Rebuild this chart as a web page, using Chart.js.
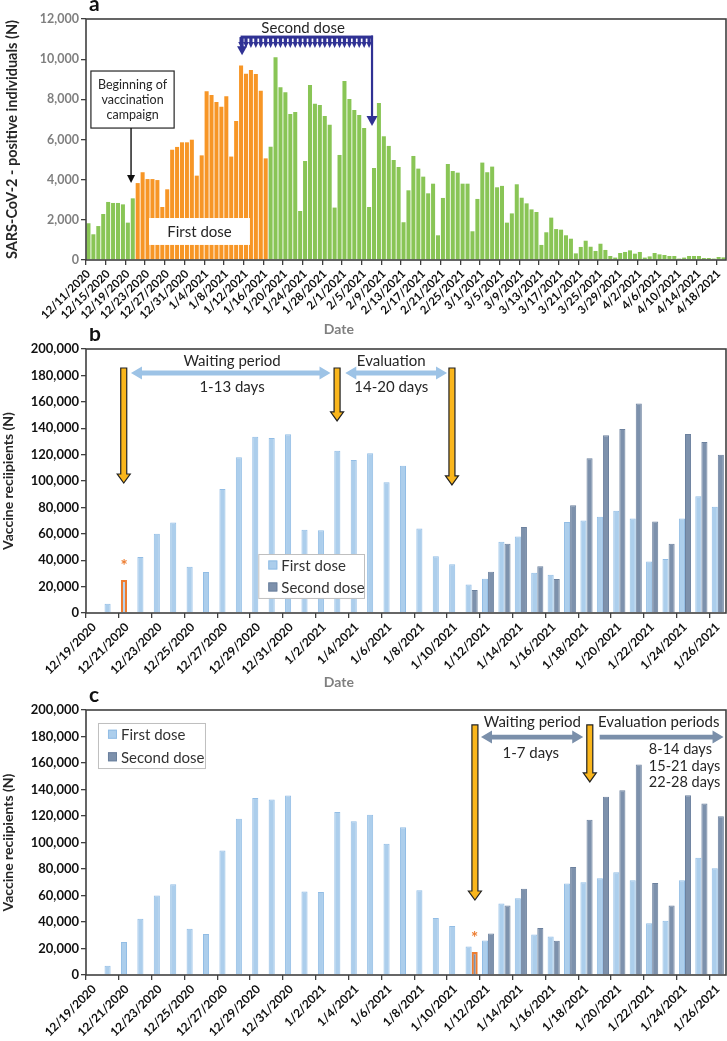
<!DOCTYPE html>
<html>
<head>
<meta charset="utf-8">
<script src="https://cdn.jsdelivr.net/npm/chart.js@4.4.1/dist/chart.umd.min.js"></script>
<style>
  body { margin: 0; background: #fff; width: 727px; height: 1041px; position: relative; overflow: hidden; }
  canvas { position: absolute; left: 0; }
</style>
</head>
<body>
<canvas id="chartA" width="727" height="340" style="top:0"></canvas>
<canvas id="chartB" width="727" height="370" style="top:328px"></canvas>
<canvas id="chartC" width="727" height="353" style="top:688px"></canvas>
<script>
function dayLabels(y, m, d, n) {
    const out = [];
    const t = new Date(y, m - 1, d);
    for (let i = 0; i < n; i++) {
        out.push((t.getMonth() + 1) + '/' + t.getDate() + '/' + t.getFullYear());
        t.setDate(t.getDate() + 1);
    }
    return out;
}

// ---- panel a: daily positive cases ----
const caseDates = dayLabels(2020, 12, 11, 130);
const cases = [
    1830, 1280, 1690, 2290, 2890, 2840, 2840, 2770, 1860, 3070,
    3830, 4370, 4030, 4030, 3980, 2640, 3520, 5490, 5630, 5860,
    5860, 5990, 4200, 5210, 8400, 8220, 7870, 7630, 8150, 5150,
    6920, 9690, 9280, 9460, 9260, 8430, 5060, 5640, 10090, 8600,
    8350, 7270, 7370, 2440, 4930, 8710, 7780, 7720, 7170, 6740,
    2610, 5230, 8910, 8020, 7470, 7220, 6570, 2640, 4580, 7820,
    6160, 5680, 4980, 4630, 1880, 3470, 5180, 4550, 4150, 3320,
    3800, 1230, 3090, 4780, 4430, 4350, 3800, 3800, 1430, 3040,
    4850, 4370, 4650, 3620, 3690, 1860, 2320, 3770, 3100, 2820,
    2520, 2390, 750, 1380, 2110, 1540, 1510, 1230, 1060, 330,
    650, 960, 660, 450, 810, 500, 200, 120, 350, 400,
    480, 315, 400, 120, 180, 350, 280, 250, 200, 200,
    70, 120, 200, 200, 200, 100, 100, 70, 150, 130
];
const firstDoseStart = '12/21/2020';
const firstDoseEnd = '1/16/2021';

// ---- panels b and c: vaccine recipients ----
const vaxDates = dayLabels(2020, 12, 19, 39);
const firstDose = [
    null, 7000, 25000, 42500, 60000, 68500, 35000, 31000, 94000, 118000,
    133500, 132500, 135500, 63000, 62700, 123000, 116000, 121000, 99000, 111500,
    64000, 43000, 37000, 21500, 26000, 54000, 58000, 30500, 29000, 69000,
    70000, 73000, 77500, 71500, 39000, 41000, 71500, 88500, 80500
];
const secondDose = [
    null, null, null, null, null, null, null, null, null, null,
    null, null, null, null, null, null, null, null, null, null,
    null, null, null, 17400, 31300, 52500, 65100, 35400, 25800, 81600,
    117200, 134600, 139400, 158800, 69400, 52500, 135600, 129500, 119900
];

const GREEN = 'rgb(137,197,86)';
const ORANGE = 'rgb(247,150,38)';
const BLUE1 = 'rgb(172,206,236)';
const BLUE1_EDGE = 'rgb(146,189,229)';
const SLATE = 'rgb(125,145,172)';
const SLATE_EDGE = 'rgb(108,129,158)';
const HILITE = 'rgb(237,125,49)';
const GOLD = 'rgb(250,182,28)';
const NAVY = 'rgb(48,50,148)';
const AXIS = '#404040';
const TEXT = '#262626';

Chart.defaults.font.family = 'Lato, "Liberation Sans", sans-serif';
Chart.defaults.animation = false;

function txt(ctx, s, x, y, size, opts = {}) {
    ctx.save();
    ctx.font = (opts.weight || 'normal') + ' ' + size + 'px Lato, sans-serif';
    ctx.fillStyle = opts.color || TEXT;
    ctx.textAlign = opts.align || 'center';
    ctx.textBaseline = opts.baseline || 'middle';
    ctx.fillText(s, x, y);
    ctx.restore();
}

function frame(ctx, a) {
    ctx.save();
    ctx.strokeStyle = AXIS;
    ctx.lineWidth = 1.6;
    ctx.strokeRect(a.left, a.top, a.width, a.height);
    ctx.restore();
}

function downHead(ctx, x, yTip, hw, hh) {
    ctx.beginPath();
    ctx.moveTo(x - hw, yTip - hh);
    ctx.lineTo(x + hw, yTip - hh);
    ctx.lineTo(x, yTip);
    ctx.closePath();
    ctx.fill();
}

function goldArrow(ctx, x, y0, y1) {
    const sw = 3, hw = 6.5, hh = 9;
    ctx.save();
    ctx.beginPath();
    ctx.moveTo(x - sw, y0);
    ctx.lineTo(x + sw, y0);
    ctx.lineTo(x + sw, y1 - hh);
    ctx.lineTo(x + hw, y1 - hh);
    ctx.lineTo(x, y1);
    ctx.lineTo(x - hw, y1 - hh);
    ctx.lineTo(x - sw, y1 - hh);
    ctx.closePath();
    ctx.fillStyle = GOLD;
    ctx.fill();
    ctx.strokeStyle = '#222';
    ctx.lineWidth = 1.2;
    ctx.stroke();
    ctx.restore();
}

function hArrow(ctx, x0, x1, y, color, both) {
    const t = 2.4, hl = 11, hh = 6.5;
    ctx.save();
    ctx.beginPath();
    if (both) {
        ctx.moveTo(x0, y);
        ctx.lineTo(x0 + hl, y - hh);
        ctx.lineTo(x0 + hl, y - t);
    } else {
        ctx.moveTo(x0, y - t);
    }
    ctx.lineTo(x1 - hl, y - t);
    ctx.lineTo(x1 - hl, y - hh);
    ctx.lineTo(x1, y);
    ctx.lineTo(x1 - hl, y + hh);
    ctx.lineTo(x1 - hl, y + t);
    if (both) {
        ctx.lineTo(x0 + hl, y + t);
        ctx.lineTo(x0 + hl, y + hh);
    } else {
        ctx.lineTo(x0, y + t);
    }
    ctx.closePath();
    ctx.fillStyle = color;
    ctx.fill();
    ctx.restore();
}

function legendBox(ctx, x0, y0, x1, y1) {
    ctx.save();
    ctx.fillStyle = '#fff';
    ctx.fillRect(x0, y0, x1 - x0, y1 - y0);
    ctx.strokeStyle = '#BFBFBF';
    ctx.lineWidth = 1;
    ctx.strokeRect(x0 + 0.5, y0 + 0.5, x1 - x0, y1 - y0);
    const items = [['First dose', BLUE1, BLUE1_EDGE], ['Second dose', SLATE, SLATE_EDGE]];
    const rowH = (y1 - y0) / 2;
    items.forEach(([label, fill, edge], k) => {
        const cy = y0 + rowH * (k + 0.5);
        ctx.fillStyle = fill;
        ctx.fillRect(x0 + 10, cy - 4.5, 9, 9);
        ctx.strokeStyle = edge;
        ctx.strokeRect(x0 + 10.5, cy - 4, 8, 8);
        txt(ctx, label, x0 + 23, cy + 1, 15, { align: 'left', color: '#333' });
    });
    ctx.restore();
}

function asterisk(chart, dsIndex, idx) {
    const bar = chart.getDatasetMeta(dsIndex).data[idx];
    txt(chart.ctx, '*', bar.x, bar.y - 8, 17, { weight: 'bold', color: HILITE, baseline: 'alphabetic' });
}

function panelLabel(chart, s) {
    const a = chart.chartArea;
    txt(chart.ctx, s, a.left + 3, a.top - 8, 21, { weight: 'bold', color: '#111', align: 'left', baseline: 'alphabetic' });
}

function dateTitle(chart) {
    const a = chart.chartArea;
    txt(chart.ctx, 'Date', a.left + 0.395 * a.width, a.bottom + 69, 14, { weight: 'bold', color: '#7f7f7f' });
}

function xAxis(labels, every, fontSize, height) {
    return {
        offset: true,
        border: { display: false },
        grid: {
            offset: true,
            drawOnChartArea: false,
            tickLength: 5,
            lineWidth: 1.3,
            color: c => (c.index % every === 0 ? AXIS : 'rgba(0,0,0,0)')
        },
        ticks: {
            autoSkip: false,
            minRotation: 45,
            maxRotation: 45,
            padding: 2,
            color: '#111',
            font: { size: fontSize, weight: 'bold' },
            callback: (v, i) => (i % every === 0 ? labels[i] : '')
        },
        afterFit: s => { s.height = height; s.paddingLeft = 0; s.paddingRight = 0; }
    };
}

function yAxis(max, step, title, tickColor, tickSize, titleSize, titlePad) {
    return {
        min: 0,
        max: max,
        border: { display: false },
        grid: { drawOnChartArea: false, tickLength: 5, color: AXIS, lineWidth: 1.3 },
        ticks: {
            stepSize: step,
            padding: 2,
            color: tickColor,
            font: { size: tickSize, weight: 'bold' },
            callback: v => v.toLocaleString('en-US')
        },
        title: {
            display: true,
            text: title,
            color: TEXT,
            font: { size: titleSize, weight: 'bold' },
            padding: { top: titlePad, bottom: 0 }
        },
        afterFit: s => { s.width = 86; s.paddingTop = 0; s.paddingBottom = 0; }
    };
}

// ---- panel a ----
const startIdx = caseDates.indexOf(firstDoseStart);
const endIdx = caseDates.indexOf(firstDoseEnd);

const annoA = {
    id: 'annoA',
    afterDatasetsDraw(chart) {
        const { ctx, chartArea: a, scales: { x, y } } = chart;
        frame(ctx, a);

        // white "First dose" label over the orange bars
        const fx0 = x.getPixelForValue(12.3), fx1 = x.getPixelForValue(32.8);
        const fy0 = y.getPixelForValue(2090), fy1 = y.getPixelForValue(750);
        ctx.fillStyle = '#fff';
        ctx.fillRect(fx0, fy0, fx1 - fx0, fy1 - fy0);
        txt(ctx, 'First dose', (fx0 + fx1) / 2, (fy0 + fy1) / 2 + 1, 15);

        // campaign box and arrow
        const bx0 = x.getPixelForValue(0.5), bx1 = x.getPixelForValue(17.4);
        const by0 = y.getPixelForValue(9410), by1 = y.getPixelForValue(6570);
        ctx.fillStyle = '#fff';
        ctx.fillRect(bx0, by0, bx1 - bx0, by1 - by0);
        ctx.strokeStyle = TEXT;
        ctx.lineWidth = 1.2;
        ctx.strokeRect(bx0, by0, bx1 - bx0, by1 - by0);
        const bcx = (bx0 + bx1) / 2, bcy = (by0 + by1) / 2;
        ['Beginning of', 'vaccination', 'campaign'].forEach((s, k) => {
            txt(ctx, s, bcx, bcy + (k - 1) * 15, 12.5);
        });
        const ax = x.getPixelForValue(8.65), tip = y.getPixelForValue(3830);
        ctx.strokeStyle = '#111';
        ctx.fillStyle = '#111';
        ctx.lineWidth = 1.4;
        ctx.beginPath();
        ctx.moveTo(ax, by1);
        ctx.lineTo(ax, tip - 6);
        ctx.stroke();
        downHead(ctx, ax, tip, 4, 8);

        // second dose bracket
        const xl = x.getPixelForValue(30.9), xr = x.getPixelForValue(57.6);
        const yl = y.getPixelForValue(11100);
        ctx.fillStyle = NAVY;
        ctx.strokeStyle = NAVY;
        ctx.fillRect(xl, yl - 1.5, xr - xl + 1, 3);
        for (let i = 31; i <= 57; i++) {
            const cx = x.getPixelForValue(i);
            ctx.fillRect(cx - 1.6, yl, 3.2, 6);
            downHead(ctx, cx, yl + 11, 2.8, 6);
        }
        const lx = x.getPixelForValue(31.2);
        ctx.fillRect(lx - 1.6, yl, 3.2, 10);
        downHead(ctx, lx, y.getPixelForValue(10200), 5, 9);
        const rtip = y.getPixelForValue(6670);
        ctx.lineWidth = 2.2;
        ctx.beginPath();
        ctx.moveTo(xr, yl - 1.5);
        ctx.lineTo(xr, rtip - 8);
        ctx.stroke();
        downHead(ctx, xr, rtip, 5.5, 10);
        txt(ctx, 'Second dose', x.getPixelForValue(43.6), y.getPixelForValue(11550), 15);
    },
    afterDraw(chart) {
        panelLabel(chart, 'a');
        dateTitle(chart);
    }
};

new Chart(document.getElementById('chartA'), {
    type: 'bar',
    data: {
        labels: caseDates,
        datasets: [{
            label: 'SARS-CoV-2 positive',
            data: cases,
            backgroundColor: cases.map((v, i) => (i >= startIdx && i <= endIdx ? ORANGE : GREEN)),
            borderWidth: 0,
            barPercentage: 0.82,
            categoryPercentage: 1.0
        }]
    },
    options: {
        responsive: false,
        devicePixelRatio: 1,
        layout: { padding: { top: 19, right: 1, left: 0, bottom: 0 } },
        plugins: { legend: { display: false }, tooltip: { enabled: false } },
        scales: {
            x: xAxis(caseDates, 4, 11.5, 80),
            y: yAxis(12000, 2000, 'SARS-CoV-2 - positive individuals (N)', '#7f7f7f', 12.5, 14.5, 4)
        }
    },
    plugins: [annoA]
});

// ---- panels b and c ----
function vaxChart(id, topPad, xHeight, hilite, anno) {
    const edge = (base, ds) => ctx => (ctx.dataIndex === hilite.index && ds === hilite.dataset ? HILITE : base);
    const width = ds => ctx => (ctx.dataIndex === hilite.index && ds === hilite.dataset ? 2.2 : 1);
    new Chart(document.getElementById(id), {
        type: 'bar',
        data: {
            labels: vaxDates,
            datasets: [{
                label: 'First dose',
                data: firstDose,
                backgroundColor: BLUE1,
                borderColor: edge(BLUE1_EDGE, 0),
                borderWidth: width(0),
                barPercentage: 1.0,
                categoryPercentage: 0.74
            }, {
                label: 'Second dose',
                data: secondDose,
                backgroundColor: SLATE,
                borderColor: edge(SLATE_EDGE, 1),
                borderWidth: width(1),
                barPercentage: 1.0,
                categoryPercentage: 0.74
            }]
        },
        options: {
            responsive: false,
            devicePixelRatio: 1,
            layout: { padding: { top: topPad, right: 1, left: 0, bottom: 0 } },
            plugins: { legend: { display: false }, tooltip: { enabled: false } },
            scales: {
                x: xAxis(vaxDates, 2, 12, xHeight),
                y: yAxis(200000, 20000, 'Vaccine reciipients (N)', '#111', 13, 14, 0)
            }
        },
        plugins: [anno]
    });
}

const annoB = {
    id: 'annoB',
    afterDatasetsDraw(chart) {
        const { ctx, chartArea: a, scales: { x, y } } = chart;
        frame(ctx, a);
        const top = y.getPixelForValue(185600);
        goldArrow(ctx, x.getPixelForValue(1.8), top, y.getPixelForValue(98500));
        goldArrow(ctx, x.getPixelForValue(14.8), top, y.getPixelForValue(145500));
        goldArrow(ctx, x.getPixelForValue(21.8), top, y.getPixelForValue(97000));
        const ay = y.getPixelForValue(181800);
        hArrow(ctx, x.getPixelForValue(2.24), x.getPixelForValue(14.4), ay, 'rgb(157,195,230)', true);
        hArrow(ctx, x.getPixelForValue(15.3), x.getPixelForValue(21.5), ay, 'rgb(157,195,230)', true);
        const t1 = y.getPixelForValue(190500), t2 = y.getPixelForValue(171000);
        txt(ctx, 'Waiting period', x.getPixelForValue(8.4), t1, 15);
        txt(ctx, '1-13 days', x.getPixelForValue(8.4), t2, 15);
        txt(ctx, 'Evaluation', x.getPixelForValue(18.1), t1, 15);
        txt(ctx, '14-20 days', x.getPixelForValue(18.1), t2, 15);
        legendBox(ctx, x.getPixelForValue(10.0), y.getPixelForValue(44700),
                  x.getPixelForValue(16.44), y.getPixelForValue(11400));
        asterisk(chart, 0, 2);
    },
    afterDraw(chart) {
        panelLabel(chart, 'b');
        dateTitle(chart);
    }
};

const annoC = {
    id: 'annoC',
    afterDatasetsDraw(chart) {
        const { ctx, chartArea: a, scales: { x, y } } = chart;
        frame(ctx, a);
        const top = y.getPixelForValue(188700);
        goldArrow(ctx, x.getPixelForValue(23.2), top, y.getPixelForValue(56600));
        goldArrow(ctx, x.getPixelForValue(30.2), top, y.getPixelForValue(145700));
        const ay = y.getPixelForValue(179600);
        hArrow(ctx, x.getPixelForValue(23.57), x.getPixelForValue(29.8), ay, 'rgb(122,143,170)', true);
        hArrow(ctx, x.getPixelForValue(30.8), x.getPixelForValue(38.35), ay, 'rgb(122,143,170)', false);
        const t1 = y.getPixelForValue(190900);
        txt(ctx, 'Waiting period', x.getPixelForValue(26.7), t1, 15);
        txt(ctx, '1-7 days', x.getPixelForValue(26.6), y.getPixelForValue(167500), 15);
        txt(ctx, 'Evaluation periods', x.getPixelForValue(34.4), t1, 15);
        const lx = x.getPixelForValue(33.8);
        txt(ctx, '8-14 days', lx, y.getPixelForValue(170600), 14.5, { align: 'left' });
        txt(ctx, '15-21 days', lx, y.getPixelForValue(157700), 14.5, { align: 'left' });
        txt(ctx, '22-28 days', lx, y.getPixelForValue(145700), 14.5, { align: 'left' });
        legendBox(ctx, x.getPixelForValue(0.23), y.getPixelForValue(190200),
                  x.getPixelForValue(6.75), y.getPixelForValue(156200));
        asterisk(chart, 1, 23);
    },
    afterDraw(chart) {
        panelLabel(chart, 'c');
    }
};

vaxChart('chartB', 21, 85, { dataset: 0, index: 2 }, annoB);
vaxChart('chartC', 22, 66, { dataset: 1, index: 23 }, annoC);
</script>
</body>
</html>
